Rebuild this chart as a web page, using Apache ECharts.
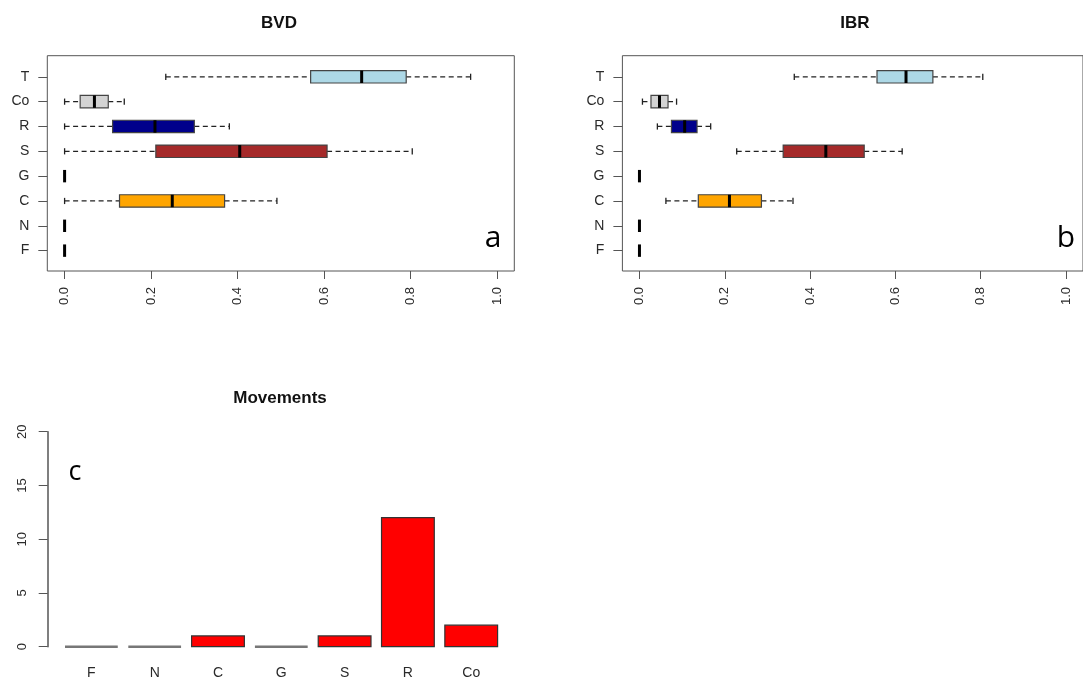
<!DOCTYPE html>
<html>
<head>
<meta charset="utf-8">
<script src="https://cdn.jsdelivr.net/npm/echarts@6/dist/echarts.min.js"></script>
<style>
html,body{margin:0;padding:0;background:#fff;}
#chart{width:1083px;height:680px;}
</style>
</head>
<body>
<div id="chart"></div>
<script>
// ---- data ----
// categories listed bottom-to-top for the box panels (position 1..8)
var boxCategories = ['F', 'N', 'C', 'G', 'S', 'R', 'Co', 'T'];
var boxColors = ['#FFFFFF', '#FFFFFF', '#FFA500', '#FFFFFF', '#A52A2A', '#00008B', '#D3D3D3', '#ADD8E6'];
// [lower whisker, Q1, median, Q3, upper whisker]
var bvdStats = [
  [0, 0, 0, 0, 0],
  [0, 0, 0, 0, 0],
  [0, 0.127, 0.249, 0.370, 0.491],
  [0, 0, 0, 0, 0],
  [0, 0.211, 0.405, 0.607, 0.804],
  [0, 0.111, 0.209, 0.300, 0.381],
  [0, 0.036, 0.069, 0.101, 0.138],
  [0.234, 0.569, 0.687, 0.790, 0.939]
];
var ibrStats = [
  [0, 0, 0, 0, 0],
  [0, 0, 0, 0, 0],
  [0.062, 0.138, 0.211, 0.286, 0.360],
  [0, 0, 0, 0, 0],
  [0.228, 0.337, 0.437, 0.527, 0.616],
  [0.042, 0.075, 0.106, 0.135, 0.167],
  [0.007, 0.027, 0.047, 0.067, 0.087],
  [0.363, 0.557, 0.625, 0.688, 0.805]
];
var xTicks = [0, 0.2, 0.4, 0.6, 0.8, 1.0];

var barCategories = ['F', 'N', 'C', 'G', 'S', 'R', 'Co'];
var barValues = [0, 0, 1, 0, 1, 12, 2];
var barYTicks = [0, 5, 10, 15, 20];

// ---- helpers ----
var FONT = '"Liberation Sans", Arial, sans-serif';
var frameColor = '#555';
var textColor = '#2a2a2a';

function boxData(stats) {
  return stats.map(function (s, i) { return [i + 1].concat(s); });
}
var boxPositions = boxCategories.map(function (c, i) { return i + 1; });

function renderBox(params, api) {
  var pos = api.value(0);
  var lo = api.value(1), q1 = api.value(2), med = api.value(3), q3 = api.value(4), hi = api.value(5);
  var cy = api.coord([0, pos])[1];
  var boxH = api.size([0, 0.5])[1];
  var half = boxH / 2;
  var staple = boxH / 4;
  var X = function (v) { return api.coord([v, pos])[0]; };
  var children = [];
  var dash = { stroke: '#222', lineWidth: 1.2, lineDash: [5, 3.5] };
  var solid = { stroke: '#222', lineWidth: 1.3 };
  if (lo < q1) {
    children.push({ type: 'line', shape: { x1: X(lo), y1: cy, x2: X(q1), y2: cy }, style: dash });
  }
  if (hi > q3) {
    children.push({ type: 'line', shape: { x1: X(q3), y1: cy, x2: X(hi), y2: cy }, style: dash });
  }
  if (lo < med) {
    children.push({ type: 'line', shape: { x1: X(lo), y1: cy - staple, x2: X(lo), y2: cy + staple }, style: solid });
  }
  if (hi > med) {
    children.push({ type: 'line', shape: { x1: X(hi), y1: cy - staple, x2: X(hi), y2: cy + staple }, style: solid });
  }
  if (q3 > q1) {
    children.push({ type: 'rect', shape: { x: X(q1), y: cy - half, width: X(q3) - X(q1), height: boxH },
      style: { fill: boxColors[params.dataIndex], stroke: '#444', lineWidth: 1.2 } });
  }
  children.push({ type: 'line', shape: { x1: X(med), y1: cy - half, x2: X(med), y2: cy + half },
    style: { stroke: '#000', lineWidth: 3 } });
  return { type: 'group', children: children };
}

function renderBar(params, api) {
  var pos = api.value(0), v = api.value(1);
  var p1 = api.coord([pos - 0.5, v]);
  var p2 = api.coord([pos + 0.5, 0]);
  var flat = (p2[1] - p1[1]) < 1;
  return { type: 'rect', shape: { x: p1[0], y: p1[1], width: p2[0] - p1[0], height: p2[1] - p1[1] },
    style: { fill: '#FF0000', stroke: flat ? '#777' : '#333', lineWidth: flat ? 2.5 : 1.2 } };
}
var barPositions = barCategories.map(function (c, i) { return 0.7 + 1.2 * i; });

function boxXAxis(gi) {
  return {
    type: 'value', gridIndex: gi, min: -0.04, max: 1.04,
    axisLine: { show: false, onZero: false },
    splitLine: { show: false },
    axisTick: { show: true, customValues: xTicks, length: 8, lineStyle: { color: frameColor } },
    axisLabel: { show: true, customValues: xTicks, rotate: 90, margin: 16, fontSize: 13, color: textColor, fontFamily: FONT,
      formatter: function (v) { return v.toFixed(1); } }
  };
}
function boxYAxis(gi) {
  return {
    type: 'value', gridIndex: gi, min: 0.18, max: 8.85,
    axisLine: { show: false, onZero: false },
    splitLine: { show: false },
    axisTick: { show: true, customValues: boxPositions, length: 9, lineStyle: { color: frameColor } },
    axisLabel: { show: true, customValues: boxPositions, margin: 18, fontSize: 14, color: textColor, fontFamily: FONT,
      formatter: function (v) { return boxCategories[Math.round(v) - 1]; } }
  };
}

var chart = echarts.init(document.getElementById('chart'), null, { renderer: 'canvas' });
chart.setOption({
  animation: false,
  backgroundColor: '#fff',
  grid: [
    { left: 47.3, top: 55.7, width: 467, height: 215.3, show: true, borderColor: frameColor, borderWidth: 1, backgroundColor: 'transparent' },
    { left: 622.4, top: 55.7, width: 466.6, height: 215.3, show: true, borderColor: frameColor, borderWidth: 1, backgroundColor: 'transparent' },
    { left: 47.7, top: 431.7, width: 467.2, height: 215 }
  ],
  xAxis: [
    boxXAxis(0),
    boxXAxis(1),
    {
      type: 'value', gridIndex: 2, min: -0.128, max: 8.728,
      axisLine: { show: false, onZero: false }, axisTick: { show: false }, splitLine: { show: false },
      axisLabel: { show: true, customValues: barPositions, margin: 19, fontSize: 14, color: textColor, fontFamily: FONT,
        formatter: function (v) { return barCategories[Math.round((v - 0.7) / 1.2)]; } }
    }
  ],
  yAxis: [
    boxYAxis(0),
    boxYAxis(1),
    {
      type: 'value', gridIndex: 2, min: 0, max: 20, interval: 5,
      axisLine: { show: true, onZero: false, lineStyle: { color: frameColor, width: 1.5 } },
      axisTick: { show: true, customValues: barYTicks, length: 9, lineStyle: { color: frameColor } },
      splitLine: { show: false },
      axisLabel: { show: true, customValues: barYTicks, rotate: 90, margin: 19, fontSize: 13, color: textColor, fontFamily: FONT }
    }
  ],
  series: [
    { type: 'custom', xAxisIndex: 0, yAxisIndex: 0, data: boxData(bvdStats), renderItem: renderBox,
      encode: { x: [1, 2, 3, 4, 5], y: 0 }, clip: false },
    { type: 'custom', xAxisIndex: 1, yAxisIndex: 1, data: boxData(ibrStats), renderItem: renderBox,
      encode: { x: [1, 2, 3, 4, 5], y: 0 }, clip: false },
    { type: 'custom', xAxisIndex: 2, yAxisIndex: 2,
      data: barValues.map(function (v, i) { return [barPositions[i], v]; }),
      renderItem: renderBar, encode: { x: 0, y: 1 }, clip: false }
  ],
  graphic: [
    { type: 'text', x: 279, y: 23, style: { text: 'BVD', font: 'bold 17px ' + FONT, fill: '#111', textAlign: 'center', textVerticalAlign: 'middle' } },
    { type: 'text', x: 855, y: 23, style: { text: 'IBR', font: 'bold 17px ' + FONT, fill: '#111', textAlign: 'center', textVerticalAlign: 'middle' } },
    { type: 'text', x: 280, y: 398, style: { text: 'Movements', font: 'bold 17px ' + FONT, fill: '#111', textAlign: 'center', textVerticalAlign: 'middle' } },
    { type: 'text', x: 493, y: 238, style: { text: 'a', font: '30px "Open Sans", sans-serif', fill: '#000', textAlign: 'center', textVerticalAlign: 'middle' } },
    { type: 'text', x: 1066, y: 238, style: { text: 'b', font: '30px "Open Sans", sans-serif', fill: '#000', textAlign: 'center', textVerticalAlign: 'middle' } },
    { type: 'text', x: 75, y: 472, style: { text: 'c', font: '27px "Open Sans", sans-serif', fill: '#000', textAlign: 'center', textVerticalAlign: 'middle' } }
  ]
});
</script>
</body>
</html>
